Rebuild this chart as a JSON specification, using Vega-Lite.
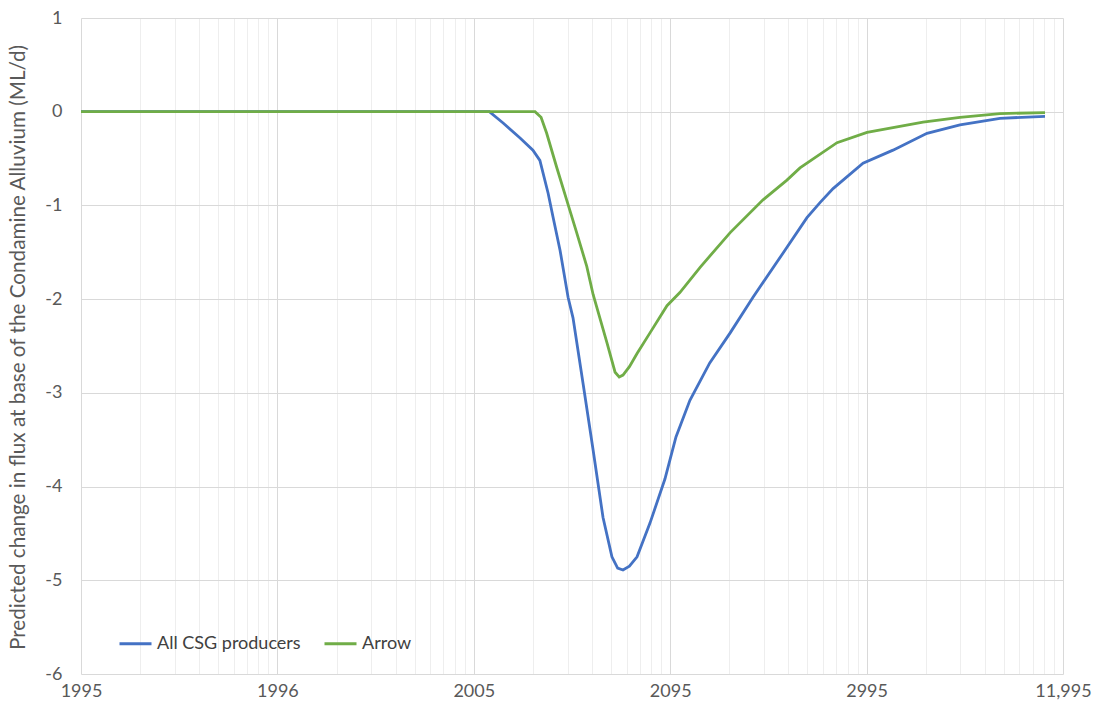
{
  "$schema": "https://vega.github.io/schema/vega-lite/v6.json",
  "autosize": {"type": "none"},
  "width": 982,
  "height": 656,
  "padding": {"left": 81, "top": 18, "right": 30, "bottom": 32},
  "background": "white",
  "config": {"font": "Lato", "view": {"stroke": null}},
  "data": {"values": [
    {"series": "All CSG producers", "t": 0.1, "v": 0},
    {"series": "All CSG producers", "t": 1, "v": 0},
    {"series": "All CSG producers", "t": 10, "v": 0},
    {"series": "All CSG producers", "t": 12, "v": 0},
    {"series": "All CSG producers", "t": 14.1, "v": -0.12},
    {"series": "All CSG producers", "t": 17.2, "v": -0.28},
    {"series": "All CSG producers", "t": 20, "v": -0.41},
    {"series": "All CSG producers", "t": 21.7, "v": -0.52},
    {"series": "All CSG producers", "t": 23.9, "v": -0.87},
    {"series": "All CSG producers", "t": 25.3, "v": -1.12},
    {"series": "All CSG producers", "t": 27.5, "v": -1.48},
    {"series": "All CSG producers", "t": 30.2, "v": -1.98},
    {"series": "All CSG producers", "t": 32, "v": -2.2},
    {"series": "All CSG producers", "t": 36, "v": -2.9},
    {"series": "All CSG producers", "t": 40.5, "v": -3.61},
    {"series": "All CSG producers", "t": 45.5, "v": -4.33},
    {"series": "All CSG producers", "t": 50.5, "v": -4.75},
    {"series": "All CSG producers", "t": 54, "v": -4.87},
    {"series": "All CSG producers", "t": 57.5, "v": -4.89},
    {"series": "All CSG producers", "t": 62, "v": -4.85},
    {"series": "All CSG producers", "t": 67.8, "v": -4.75},
    {"series": "All CSG producers", "t": 78.9, "v": -4.39},
    {"series": "All CSG producers", "t": 94, "v": -3.92},
    {"series": "All CSG producers", "t": 107, "v": -3.47},
    {"series": "All CSG producers", "t": 126, "v": -3.08},
    {"series": "All CSG producers", "t": 159, "v": -2.68},
    {"series": "All CSG producers", "t": 202, "v": -2.36},
    {"series": "All CSG producers", "t": 264, "v": -1.98},
    {"series": "All CSG producers", "t": 375, "v": -1.51},
    {"series": "All CSG producers", "t": 497, "v": -1.13},
    {"series": "All CSG producers", "t": 579, "v": -0.97},
    {"series": "All CSG producers", "t": 675, "v": -0.82},
    {"series": "All CSG producers", "t": 959, "v": -0.55},
    {"series": "All CSG producers", "t": 1363, "v": -0.41},
    {"series": "All CSG producers", "t": 2030, "v": -0.23},
    {"series": "All CSG producers", "t": 2989, "v": -0.14},
    {"series": "All CSG producers", "t": 4777, "v": -0.07},
    {"series": "All CSG producers", "t": 8098, "v": -0.05},
    {"series": "Arrow", "t": 0.1, "v": 0},
    {"series": "Arrow", "t": 1, "v": 0},
    {"series": "Arrow", "t": 10, "v": 0},
    {"series": "Arrow", "t": 20.5, "v": 0},
    {"series": "Arrow", "t": 22, "v": -0.06},
    {"series": "Arrow", "t": 23.5, "v": -0.23},
    {"series": "Arrow", "t": 26.4, "v": -0.59},
    {"series": "Arrow", "t": 29.7, "v": -0.94},
    {"series": "Arrow", "t": 33.4, "v": -1.29},
    {"series": "Arrow", "t": 37.6, "v": -1.65},
    {"series": "Arrow", "t": 40.5, "v": -1.95},
    {"series": "Arrow", "t": 47.7, "v": -2.47},
    {"series": "Arrow", "t": 52.4, "v": -2.78},
    {"series": "Arrow", "t": 55, "v": -2.83},
    {"series": "Arrow", "t": 57.5, "v": -2.81},
    {"series": "Arrow", "t": 62, "v": -2.72},
    {"series": "Arrow", "t": 67.8, "v": -2.58},
    {"series": "Arrow", "t": 78.9, "v": -2.36},
    {"series": "Arrow", "t": 96.3, "v": -2.07},
    {"series": "Arrow", "t": 112, "v": -1.93},
    {"series": "Arrow", "t": 142, "v": -1.66},
    {"series": "Arrow", "t": 202, "v": -1.29},
    {"series": "Arrow", "t": 297, "v": -0.94},
    {"series": "Arrow", "t": 393, "v": -0.73},
    {"series": "Arrow", "t": 458, "v": -0.6},
    {"series": "Arrow", "t": 707, "v": -0.33},
    {"series": "Arrow", "t": 1005, "v": -0.22},
    {"series": "Arrow", "t": 1938, "v": -0.11},
    {"series": "Arrow", "t": 2989, "v": -0.06},
    {"series": "Arrow", "t": 4777, "v": -0.02},
    {"series": "Arrow", "t": 8098, "v": -0.01}
  ]},
  "mark": {"type": "line", "strokeWidth": 2.8, "interpolate": "linear"},
  "encoding": {
    "x": {
      "field": "t", "type": "quantitative",
      "scale": {"type": "log", "domain": [0.1, 10000], "nice": false},
      "axis": {
        "title": null,
        "values": [0.1,0.2,0.3,0.4,0.5,0.6,0.7,0.8,0.9,1,2,3,4,5,6,7,8,9,10,20,30,40,50,60,70,80,90,100,200,300,400,500,600,700,800,900,1000,2000,3000,4000,5000,6000,7000,8000,9000,10000],
        "labelExpr": "datum.value == 0.1 ? '1995' : datum.value == 1 ? '1996' : datum.value == 10 ? '2005' : datum.value == 100 ? '2095' : datum.value == 1000 ? '2995' : datum.value == 10000 ? '11,995' : ''",
        "labelOverlap": false,
        "labelFlush": false,
        "labelFontSize": 18,
        "labelColor": "#595959",
        "labelPadding": 8,
        "ticks": false,
        "domain": false,
        "grid": true,
        "gridColor": {"condition": {"test": "indexof([0.1,1,10,100,1000,10000], datum.value) >= 0", "value": "#d9d9d9"}, "value": "#eeeeee"},
        "gridWidth": 1
      }
    },
    "y": {
      "field": "v", "type": "quantitative",
      "scale": {"domain": [-6, 1], "nice": false},
      "axis": {
        "title": "Predicted change in flux at base of the Condamine Alluvium (ML/d)",
        "values": [-6,-5,-4,-3,-2,-1,0,1],
        "labelExpr": "'' + datum.value",
        "labelFontSize": 18,
        "labelColor": "#595959",
        "labelPadding": 19,
        "ticks": false,
        "domain": false,
        "grid": true,
        "gridColor": "#d9d9d9",
        "titleFontSize": 20.7,
        "titleFontWeight": "normal",
        "titleColor": "#595959",
        "titleX": -63,
        "titleY": 329,
        "titleAngle": -90,
        "titleAlign": "center",
        "titleBaseline": "middle"
      }
    },
    "color": {
      "field": "series", "type": "nominal",
      "scale": {"domain": ["All CSG producers", "Arrow"], "range": ["#4472C4", "#70AD47"]},
      "legend": {
        "title": null,
        "orient": "none",
        "direction": "horizontal",
        "legendX": 37,
        "legendY": 608,
        "symbolType": "stroke",
        "symbolSize": 1024,
        "symbolStrokeWidth": 3,
        "labelFontSize": 18,
        "labelColor": "#404040",
        "labelOffset": 4,
        "columnPadding": 17,
        "labelLimit": 300
      }
    }
  }
}
